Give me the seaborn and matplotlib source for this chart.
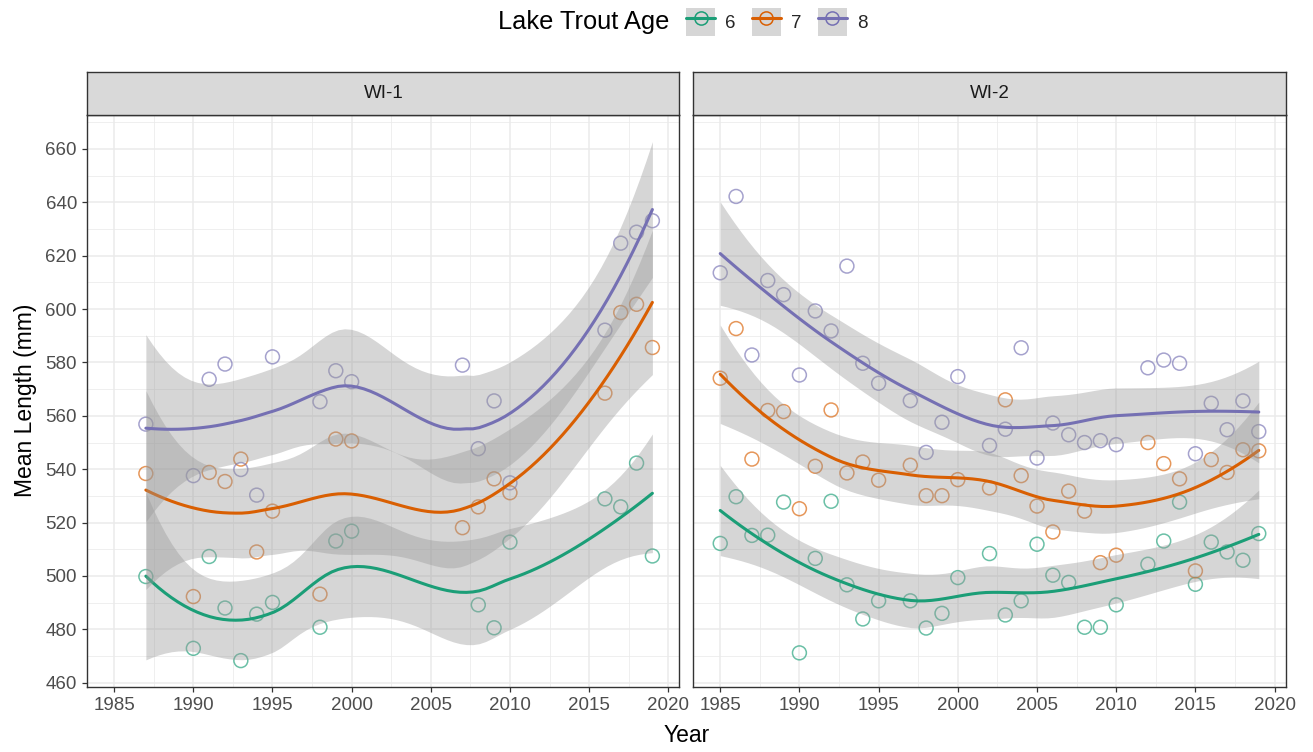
import numpy as np
import pandas as pd
import matplotlib
matplotlib.use("Agg")
import matplotlib.pyplot as plt
from matplotlib.lines import Line2D
from matplotlib.patches import Rectangle
from matplotlib.ticker import MultipleLocator
import seaborn as sns

# ---------------- data ----------------
sites = ["WI-1", "WI-2"]
ages = [6, 7, 8]

wi1_years_age6 = [1987, 1990, 1991, 1992, 1993, 1994, 1995, 1998, 1999, 2000,
                  2008, 2009, 2010, 2016, 2017, 2018, 2019]
wi1_len_age6 = [499.8, 472.9, 507.3, 488.0, 468.3, 485.7, 490.1, 480.8, 513.1, 516.8,
                489.2, 480.6, 512.7, 528.9, 525.9, 542.3, 507.5]

wi1_years_age7 = [1987, 1990, 1991, 1992, 1993, 1994, 1995, 1998, 1999, 2000,
                  2007, 2008, 2009, 2010, 2016, 2017, 2018, 2019]
wi1_len_age7 = [538.4, 492.3, 538.8, 535.4, 543.8, 509.0, 524.3, 493.2, 551.3, 550.6,
                518.1, 525.9, 536.4, 531.2, 568.5, 598.7, 601.8, 585.6]

wi1_years_age8 = [1987, 1990, 1991, 1992, 1993, 1994, 1995, 1998, 1999, 2000,
                  2007, 2008, 2009, 2010, 2016, 2017, 2018, 2019]
wi1_len_age8 = [556.9, 537.6, 573.7, 579.4, 539.9, 530.3, 582.1, 565.3, 576.9, 572.8,
                579.0, 547.7, 565.6, 534.9, 592.1, 624.7, 628.8, 633.1]

wi2_years = [1985, 1986, 1987, 1988, 1989, 1990, 1991, 1992, 1993, 1994, 1995,
             1997, 1998, 1999, 2000, 2002, 2003, 2004, 2005, 2006, 2007, 2008,
             2009, 2010, 2012, 2013, 2014, 2015, 2016, 2017, 2018, 2019]
wi2_len_age6 = [512.2, 529.7, 515.2, 515.3, 527.7, 471.2, 506.6, 528.0, 496.7, 483.9, 490.7,
                490.7, 480.5, 486.0, 499.4, 508.4, 485.4, 490.7, 511.9, 500.3, 497.6, 480.8,
                480.8, 489.2, 504.4, 513.1, 527.7, 496.9, 512.7, 509.0, 505.9, 515.9]
wi2_len_age7 = [574.1, 592.7, 543.8, 562.0, 561.6, 525.2, 541.1, 562.2, 538.6, 542.7, 535.9,
                541.5, 530.1, 530.1, 536.1, 533.0, 566.0, 537.6, 526.2, 516.5, 531.8, 524.3,
                505.0, 507.8, 550.0, 542.1, 536.4, 501.9, 543.6, 538.8, 547.3, 546.9]
wi2_len_age8 = [613.6, 642.2, 582.8, 610.7, 605.4, 575.3, 599.3, 591.8, 616.1, 579.7, 572.2,
                565.7, 546.3, 557.6, 574.7, 548.9, 555.0, 585.5, 544.2, 557.3, 552.9, 550.0,
                550.7, 549.2, 578.0, 580.9, 579.7, 545.8, 564.7, 554.8, 565.6, 554.1]

x_breaks = [1985, 1990, 1995, 2000, 2005, 2010, 2015, 2020]
y_breaks = [460, 480, 500, 520, 540, 560, 580, 600, 620, 640, 660]

series = [
    ("WI-1", 6, wi1_years_age6, wi1_len_age6),
    ("WI-1", 7, wi1_years_age7, wi1_len_age7),
    ("WI-1", 8, wi1_years_age8, wi1_len_age8),
    ("WI-2", 6, wi2_years, wi2_len_age6),
    ("WI-2", 7, wi2_years, wi2_len_age7),
    ("WI-2", 8, wi2_years, wi2_len_age8),
]
df = pd.concat([
    pd.DataFrame({"site": s, "age": a, "year": yrs, "length": vals})
    for s, a, yrs, vals in series
], ignore_index=True)

palette = {6: "#1B9E77", 7: "#D95F02", 8: "#7570B3"}


# ---------------- loess smoother (local quadratic, kd-tree interpolation) ----------------
def _t975(dof):
    z = 1.959963985
    g1 = (z**3 + z) / 4
    g2 = (5 * z**5 + 16 * z**3 + 3 * z) / 96
    g3 = (3 * z**7 + 19 * z**5 + 17 * z**3 - 15 * z) / 384
    g4 = (79 * z**9 + 776 * z**7 + 1482 * z**5 - 1920 * z**3 - 945 * z) / 92160
    return z + g1 / dof + g2 / dof**2 + g3 / dof**3 + g4 / dof**4


def _kd_vertices(xs, fc):
    lo, hi = xs[0], xs[-1]
    mu = 0.005 * (hi - lo)
    verts = {lo - mu, hi + mu}

    def split(l, u, vlo, vhi):  # 1-based inclusive index range
        if u - l + 1 <= fc:
            return
        m = (l + u) // 2
        t = xs[m - 1]
        if t == vlo or t == vhi:
            return
        verts.add(t)
        split(l, m, vlo, t)
        split(m + 1, u, t, vhi)

    split(1, len(xs), lo - mu, hi + mu)
    return np.array(sorted(verts))


def loess_band(x, y, n_out=80, span=0.75, cell=0.2):
    order = np.argsort(x)
    x = np.asarray(x, float)[order]
    y = np.asarray(y, float)[order]
    n = len(x)
    q = int(np.floor(n * span))

    def local_rows(x0):
        d = np.abs(x - x0)
        h = np.sort(d)[q - 1]
        u = np.clip(d / h, 0, 1)
        w = (1 - u**3) ** 3
        X = np.column_stack([np.ones(n), x - x0, (x - x0) ** 2])
        XtW = X.T * w
        B = np.linalg.solve(XtW @ X, XtW)
        return B[0], B[1]  # value row, slope row

    fc = int(np.floor(n * span * cell))
    verts = _kd_vertices(x, fc)
    vrows = [local_rows(v) for v in verts]

    def interp_row(x0):
        j = np.searchsorted(verts, x0, side="right") - 1
        j = min(max(j, 0), len(verts) - 2)
        a, b = verts[j], verts[j + 1]
        hh = b - a
        t = (x0 - a) / hh
        phi0 = (1 - t) ** 2 * (1 + 2 * t)
        phi1 = t**2 * (3 - 2 * t)
        psi0 = t * (1 - t) ** 2
        psi1 = -(t**2) * (1 - t)
        (va, sa), (vb, sb) = vrows[j], vrows[j + 1]
        return phi0 * va + phi1 * vb + hh * (psi0 * sa + psi1 * sb)

    L = np.array([interp_row(v) for v in x])
    M = np.eye(n) - L
    MM = M.T @ M
    one_delta = np.trace(MM)
    two_delta = np.trace(MM @ MM)
    resid = y - L @ y
    sigma = np.sqrt(np.sum(resid**2) / one_delta)
    dof = one_delta**2 / two_delta
    xg = np.linspace(x.min(), x.max(), n_out)
    Lg = np.array([interp_row(v) for v in xg])
    fit = Lg @ y
    se = sigma * np.sqrt(np.sum(Lg**2, axis=1))
    t = _t975(dof)
    return xg, fit, fit - t * se, fit + t * se


# ---------------- styling ----------------
sns.set_style("white")
plt.rcParams["font.family"] = ["Liberation Sans", "DejaVu Sans"]

W, H = 1313, 752
fig = plt.figure(figsize=(W / 100, H / 100), dpi=100)

panel_px = {"WI-1": (87.3, 679.3), "WI-2": (693.3, 1285.7)}
top_px, bot_px, strip_top_px = 114.5, 686.5, 72.0
xlim = (1983.3, 2020.7)
ylim = (458.6, 672.9)

border = "#333333"
tick_col = "#4D4D4D"
grid_col = "#EBEBEB"

for i, site in enumerate(sites):
    l, r = panel_px[site]
    ax = fig.add_axes([l / W, 1 - bot_px / H, (r - l) / W, (bot_px - top_px) / H])
    ax.set_facecolor("white")
    ax.set_xlim(*xlim)
    ax.set_ylim(*ylim)
    ax.set_xticks(x_breaks)
    ax.set_yticks(y_breaks)
    ax.xaxis.set_minor_locator(MultipleLocator(2.5))
    ax.yaxis.set_minor_locator(MultipleLocator(10))
    ax.set_axisbelow(True)
    ax.grid(True, which="major", color=grid_col, lw=1.1)
    ax.grid(True, which="minor", color=grid_col, lw=0.55)
    ax.tick_params(which="major", length=3.5, width=0.9, color=border,
                   labelsize=13.5, labelcolor=tick_col, pad=4,
                   bottom=True, left=(i == 0))
    ax.tick_params(which="minor", length=0)
    if i > 0:
        ax.set_yticklabels([])
    for sp in ax.spines.values():
        sp.set_color(border)
        sp.set_linewidth(1.0)

    # facet strip
    sax = fig.add_axes([l / W, 1 - top_px / H, (r - l) / W, (top_px - strip_top_px) / H])
    sax.set_facecolor("#D9D9D9")
    sax.set_xticks([])
    sax.set_yticks([])
    for sp in sax.spines.values():
        sp.set_color(border)
        sp.set_linewidth(1.0)
    sax.text(0.5, 0.5, site, ha="center", va="center", fontsize=13.5,
             color="#1A1A1A", transform=sax.transAxes)

    # observed means as open circles
    sub = df[df["site"] == site]
    sns.scatterplot(data=sub, x="year", y="length", hue="age", palette=palette,
                    s=100, alpha=0.65, linewidth=1.1, legend=False, ax=ax, zorder=2)
    coll = ax.collections[-1]
    fc = coll.get_facecolors()
    coll.set_edgecolors(fc)
    coll.set_facecolors("none")

    # smoothed trend with 95% band, one age class at a time
    for age in ages:
        g = sub[sub["age"] == age]
        xg, fit, lo, hi = loess_band(g["year"].values, g["length"].values)
        ax.fill_between(xg, lo, hi, color="#999999", alpha=0.4, lw=0, zorder=3)
        sns.lineplot(x=xg, y=fit, color=palette[age], lw=2.2, ax=ax,
                     sort=False, estimator=None, zorder=3)
    ax.set_xlabel("")
    ax.set_ylabel("")

# axis titles
fig.text((87.3 + 1285.7) / 2 / W, 1 - 736 / H, "Year", ha="center", va="center",
         fontsize=16.5, color="black")
fig.text(26 / W, 1 - (top_px + bot_px) / 2 / H, "Mean Length (mm)", ha="center",
         va="center", rotation=90, fontsize=16.5, color="black")

# legend across the top
fig.text(498 / W, 1 - 22 / H, "Lake Trout Age", ha="left", va="center",
         fontsize=18.3, color="black")
handles = []
for age in ages:
    key_bg = Rectangle((0, 0), 1, 1, facecolor="#999999", alpha=0.4, lw=0)
    key_line = Line2D([], [], color=palette[age], lw=2.2, marker="o", markersize=9.5,
                      markerfacecolor="none", markeredgecolor=palette[age],
                      markeredgewidth=1.1, alpha=1.0)
    handles.append((key_bg, key_line))
fig.legend(handles, [str(a) for a in ages], loc="center left",
           bbox_to_anchor=(686 / W, 1 - 22 / H), ncol=3, frameon=False,
           fontsize=13.5, handlelength=1.55, handleheight=2.0,
           handletextpad=0.55, columnspacing=0.85, borderpad=0,
           borderaxespad=0, numpoints=1)

fig.savefig("out.png", dpi=100)
